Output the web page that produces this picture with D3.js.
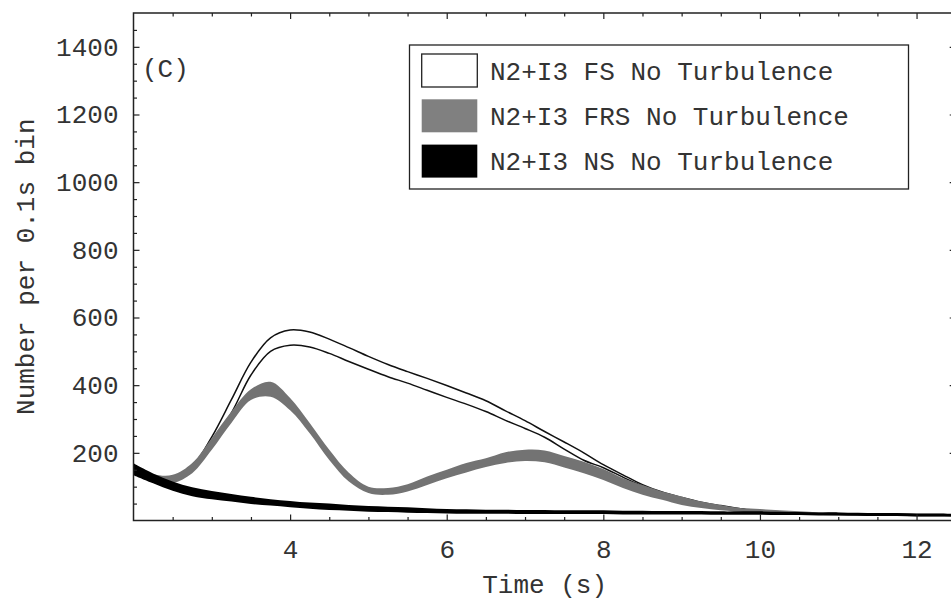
<!DOCTYPE html>
<html>

<head>
	<script src="https://cdn.jsdelivr.net/npm/d3@7"></script>

	<style>
		body {
			margin: 0;
			background: #fff;
		}

		svg {
			font-family: "Courier New", "Liberation Mono", monospace;
		}

		.tick text {
			font-size: 26px;
			fill: #333;
		}

		.tick line {
			stroke: #222;
			stroke-width: 1.2;
		}
	</style>
</head>

<body>

	<div id="chart"></div>

	<script>
		// time axis (s), shared by all three bands
		var times = [2, 2.25, 2.5, 2.75, 3, 3.25, 3.5, 3.75, 4, 4.25, 4.5, 4.75, 5, 5.25, 5.5, 5.75, 6, 6.25, 6.5, 6.75,
			7, 7.25, 7.5, 7.75, 8, 8.25, 8.5, 8.75, 9, 9.25, 9.5, 9.75, 10, 10.25, 10.5, 10.75, 11, 11.25, 11.5, 11.75,
			12, 12.25, 12.5];

		// N2+I3 FS No Turbulence (lower / upper edge)
		var fsLow = [150, 125, 121, 152, 232, 318, 430, 500, 518, 513, 494, 470, 447, 425, 406, 385, 364, 344, 322, 296,
			272, 246, 211, 178, 156, 128, 102, 80, 64, 51, 41, 33, 28, 24, 21, 19, 18, 17, 16, 16,
			15, 15, 14];
		var fsHigh = [155, 130, 127, 160, 247, 357, 468, 540, 563, 557, 536, 511, 485, 461, 440, 420, 399, 377, 354, 324,
			295, 263, 232, 200, 165, 135, 106, 84, 68, 54, 44, 35, 30, 26, 23, 21, 20, 19, 18, 18,
			17, 17, 16];

		// N2+I3 FRS No Turbulence
		var frsLow = [140, 115, 111, 140, 209, 288, 356, 366, 326, 258, 179, 115, 81, 76, 86, 105, 125, 142, 158, 170,
			176, 172, 157, 140, 120, 96, 76, 61, 46, 37, 30, 26, 22, 20, 18, 17, 16, 16, 15, 15,
			14, 14, 13];
		var frsHigh = [160, 137, 135, 170, 244, 322, 388, 410, 362, 288, 209, 141, 100, 96, 107, 130, 150, 170, 184, 202,
			209, 207, 191, 174, 152, 125, 105, 86, 71, 56, 46, 37, 34, 30, 27, 24, 23, 22, 21, 21,
			20, 20, 19];

		// N2+I3 NS No Turbulence
		var nsLow = [134, 110, 88, 72, 63, 56, 49, 44, 39, 35, 31, 29, 26, 25, 23, 22, 21, 20, 20, 20,
			19, 19, 19, 19, 19, 18, 18, 18, 18, 18, 17, 17, 17, 16, 16, 15, 15, 14, 13, 13,
			12, 12, 12];
		var nsHigh = [169, 139, 115, 98, 87, 78, 70, 63, 58, 53, 50, 46, 43, 41, 39, 36, 34, 33, 32, 32,
			31, 31, 30, 30, 30, 29, 29, 28, 28, 28, 27, 27, 27, 26, 25, 24, 24, 23, 22, 22,
			21, 21, 20];

		var xMajor = [4, 6, 8, 10, 12];
		var yMajor = [200, 400, 600, 800, 1000, 1200, 1400];

		var legendNames = ["N2+I3 FS No Turbulence", "N2+I3 FRS No Turbulence", "N2+I3 NS No Turbulence"];

		var width = 951,
			height = 601;
		// plot box (window.top is reserved, so use other names)
		var pLeft = 133.5,
			pRight = 955.7,
			pTop = 13,
			pBottom = 520.5;

		var x = d3.scaleLinear()
			.domain([2, 12.5])
			.range([pLeft, pRight]);

		var y = d3.scaleLinear()
			.domain([0, 1500])
			.range([pBottom, pTop]);

		var svg = d3.select("#chart").append("svg")
			.attr("width", width)
			.attr("height", height);

		svg.append("clipPath").attr("id", "plotclip")
			.append("rect")
			.attr("x", pLeft).attr("y", pTop)
			.attr("width", pRight - pLeft).attr("height", pBottom - pTop);

		var plot = svg.append("g").attr("clip-path", "url(#plotclip)");

		var curve = d3.curveCatmullRom.alpha(0.5);

		function band(lo, hi) {
			return d3.area()
				.curve(curve)
				.x(function (d, i) { return x(times[i]); })
				.y0(function (d, i) { return y(lo[i]); })
				.y1(function (d, i) { return y(hi[i]); })(times);
		}

		function edge(vals) {
			return d3.line()
				.curve(curve)
				.x(function (d, i) { return x(times[i]); })
				.y(function (d, i) { return y(vals[i]); })(times);
		}

		// FS: white band with black outline
		plot.append("path").attr("d", band(fsLow, fsHigh)).attr("fill", "#fff");
		plot.append("path").attr("d", edge(fsLow)).attr("fill", "none").attr("stroke", "#111").attr("stroke-width", 1.5);
		plot.append("path").attr("d", edge(fsHigh)).attr("fill", "none").attr("stroke", "#111").attr("stroke-width", 1.5);

		// FRS: grey band
		plot.append("path").attr("d", band(frsLow, frsHigh)).attr("fill", "#737373");

		// NS: black band
		plot.append("path").attr("d", band(nsLow, nsHigh)).attr("fill", "#000");

		// axes, ticks pointing inward
		var xMinor = d3.range(2.5, 12.51, 0.5).filter(function (v) { return xMajor.indexOf(v) < 0; });
		var yMinor = d3.range(50, 1500, 50).filter(function (v) { return yMajor.indexOf(v) < 0; });

		var axes = svg.append("g");

		axes.append("g").attr("transform", "translate(0," + pBottom + ")")
			.call(d3.axisBottom(x).tickValues(xMajor).tickSize(-6).tickSizeOuter(0).tickPadding(19).tickFormat(d3.format("d")));
		axes.append("g").attr("transform", "translate(0," + pBottom + ")")
			.call(d3.axisBottom(x).tickValues(xMinor).tickSize(-3.5).tickSizeOuter(0).tickFormat(""));

		axes.append("g").attr("transform", "translate(0," + pTop + ")")
			.call(d3.axisTop(x).tickValues(xMajor).tickSize(-6).tickSizeOuter(0).tickFormat(""));
		axes.append("g").attr("transform", "translate(0," + pTop + ")")
			.call(d3.axisTop(x).tickValues(xMinor).tickSize(-3.5).tickSizeOuter(0).tickFormat(""));

		axes.append("g").attr("transform", "translate(" + pLeft + ",0)")
			.call(d3.axisLeft(y).tickValues(yMajor).tickSize(-6).tickSizeOuter(0).tickPadding(15).tickFormat(d3.format("d")));
		axes.append("g").attr("transform", "translate(" + pLeft + ",0)")
			.call(d3.axisLeft(y).tickValues(yMinor).tickSize(-3.5).tickSizeOuter(0).tickFormat(""));

		axes.append("g").attr("transform", "translate(" + pRight + ",0)")
			.call(d3.axisRight(y).tickValues(yMajor).tickSize(-6).tickSizeOuter(0).tickFormat(""));
		axes.append("g").attr("transform", "translate(" + pRight + ",0)")
			.call(d3.axisRight(y).tickValues(yMinor).tickSize(-3.5).tickSizeOuter(0).tickFormat(""));

		// let the monospace font from the css reach the tick labels
		axes.selectAll("g").attr("font-family", null).attr("font-size", null);
		axes.selectAll(".domain").remove();

		// frame
		svg.append("rect")
			.attr("x", pLeft).attr("y", pTop)
			.attr("width", pRight - pLeft).attr("height", pBottom - pTop)
			.attr("fill", "none")
			.attr("stroke", "#222")
			.attr("stroke-width", 1.5);

		// axis titles
		svg.append("text")
			.attr("x", (pLeft + pRight) / 2)
			.attr("y", 593)
			.attr("text-anchor", "middle")
			.attr("font-size", 26)
			.attr("fill", "#333")
			.text("Time (s)");

		svg.append("text")
			.attr("transform", "translate(34," + (pTop + pBottom) / 2 + ") rotate(-90)")
			.attr("text-anchor", "middle")
			.attr("font-size", 26)
			.attr("fill", "#333")
			.text("Number per 0.1s bin");

		svg.append("text")
			.attr("x", 142)
			.attr("y", 77)
			.attr("font-size", 26)
			.attr("fill", "#333")
			.text("(C)");

		// legend
		var lg = svg.append("g");
		lg.append("rect")
			.attr("x", 409.5).attr("y", 45)
			.attr("width", 499).attr("height", 144)
			.attr("fill", "#fff")
			.attr("stroke", "#222")
			.attr("stroke-width", 1.3);

		var swatchFill = ["#fff", "#808080", "#000"];
		var swatchStroke = ["#222", "none", "none"];

		lg.selectAll("rect.sw")
			.data(legendNames)
			.enter().append("rect")
			.attr("class", "sw")
			.attr("x", 421.7)
			.attr("y", function (d, i) { return 54 + i * 45.3; })
			.attr("width", 55.6)
			.attr("height", 33)
			.attr("fill", function (d, i) { return swatchFill[i]; })
			.attr("stroke", function (d, i) { return swatchStroke[i]; })
			.attr("stroke-width", 1.3);

		lg.selectAll("text")
			.data(legendNames)
			.enter().append("text")
			.attr("x", 490)
			.attr("y", function (d, i) { return 70.5 + i * 45.3; })
			.attr("dy", "0.35em")
			.attr("font-size", 26)
			.attr("fill", "#333")
			.text(function (d) { return d; });
	</script>
</body>

</html>
